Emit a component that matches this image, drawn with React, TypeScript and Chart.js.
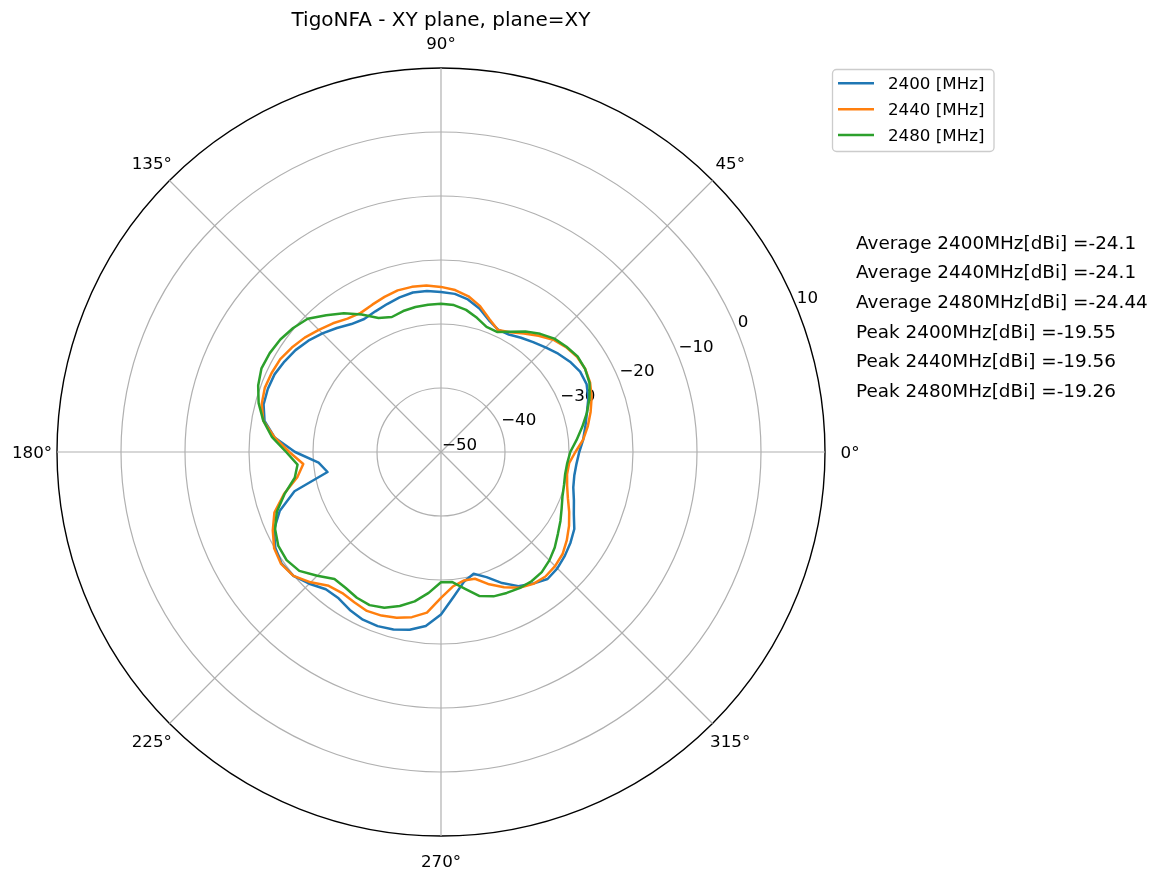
import React, { useEffect, useRef } from 'react';
import { Chart, registerables } from 'chart.js';

Chart.register(...registerables);

// Angles (degrees, counter-clockwise from east) at which the pattern is sampled
const ANGLES_DEG = [
  0, 5, 10, 15, 20, 25, 30, 35, 40, 45, 50, 55, 60, 65, 70, 75, 80, 85,
  90, 95, 100, 105, 110, 115, 120, 125, 130, 135, 140, 145, 150, 155, 160, 165, 170, 175,
  180, 185, 190, 195, 200, 205, 210, 215, 220, 225, 230, 235, 240, 245, 250, 255, 260, 265,
  270, 275, 280, 285, 290, 295, 300, 305, 310, 315, 320, 325, 330, 335, 340, 345, 350, 355,
];

// Gain in dBi per angle
const GAIN_2400 = [
  -28.4, -27.7, -27.1, -26.4, -25.5, -24.9, -24.9, -25.4, -26.1, -26.9, -27.6, -28.2, -28.8, -28.9, -28.1, -26.8, -25.8, -25.2,
  -25.0, -24.75, -24.7, -25.0, -25.4, -25.75, -26.0, -25.6, -24.7, -23.8, -22.95, -22.25, -21.75, -21.3, -21.2, -21.3, -22.0, -23.9,
  -27.2, -30.8, -32.0, -26.3, -23.2, -21.2, -20.1, -19.6, -19.9, -20.9, -22.0, -22.1, -21.5, -21.1, -21.05, -21.3, -21.8, -22.7,
  -24.6, -27.3, -29.4, -30.3, -29.2, -27.4, -25.8, -24.9, -24.1, -24.3, -24.75, -25.3, -25.95, -27.1, -27.9, -28.6, -28.85, -28.75,
];
const GAIN_2440 = [
  -29.0, -27.7, -26.7, -25.8, -24.95, -24.3, -24.0, -24.05, -24.5, -25.2, -26.3, -27.4, -28.4, -28.95, -27.9, -26.4, -25.3, -24.6,
  -24.2, -23.9, -23.8, -23.85, -24.2, -24.6, -24.9, -24.55, -23.75, -23.0, -22.2, -21.55, -21.0, -20.8, -20.7, -21.0, -21.8, -23.9,
  -26.3, -28.4, -27.2, -24.6, -22.3, -21.0, -19.9, -19.5, -19.9, -21.2, -22.7, -23.1, -22.9, -22.6, -22.8, -23.2, -23.8, -24.8,
  -27.2, -28.9, -29.6, -29.5, -28.0, -26.7, -25.5, -24.85, -24.6, -24.8, -25.2, -26.0, -26.9, -27.9, -28.9, -29.6, -30.0, -29.9,
];
const GAIN_2480 = [
  -29.8, -28.75, -27.6, -26.4, -25.3, -24.4, -24.0, -23.95, -24.4, -24.95, -25.9, -27.0, -28.3, -29.3, -29.2, -28.3, -27.45, -26.95,
  -26.85, -26.9, -27.0, -27.2, -27.55, -26.9, -25.2, -23.55, -22.1, -20.55, -19.85, -19.35, -19.1, -19.05, -19.6, -20.5, -21.8, -23.5,
  -25.8, -27.5, -26.8, -24.7, -22.7, -21.4, -20.65, -20.55, -21.1, -22.65, -24.1, -24.05, -23.7, -23.6, -24.1, -25.1, -26.3, -27.9,
  -29.65, -29.6, -28.3, -26.7, -26.0, -25.7, -25.45, -25.35, -25.5, -26.05, -26.8, -27.7, -28.45, -29.2, -29.8, -30.1, -30.3, -30.2,
];

const SERIES_LABELS = ['2400 [MHz]', '2440 [MHz]', '2480 [MHz]'];
const SERIES_COLORS = ['#1f77b4', '#ff7f0e', '#2ca02c'];
const RADIAL_TICKS = [-50, -40, -30, -20, -10, 0, 10];
const ANGLE_TICKS = [0, 45, 90, 135, 180, 225, 270, 315];
const TITLE = 'TigoNFA - XY plane, plane=XY';
const STATS_LINES = [
  'Average 2400MHz[dBi] =-24.1',
  'Average 2440MHz[dBi] =-24.1',
  'Average 2480MHz[dBi] =-24.44',
  'Peak 2400MHz[dBi] =-19.55',
  'Peak 2440MHz[dBi] =-19.56',
  'Peak 2480MHz[dBi] =-19.26',
];

const FONT = '"DejaVu Sans", "Liberation Sans", sans-serif';
const W = 1176;
const H = 874;

export default function App() {
  const ref = useRef<HTMLCanvasElement | null>(null);

  useEffect(() => {
    const canvas = ref.current;
    if (!canvas) return;
    const n = ANGLES_DEG.length;
    const step = 360 / n;
    // radar goes clockwise from startAngle; reverse order gives counter-clockwise angles
    const order = ANGLES_DEG.map((_, i) => (n - i) % n);
    const labels = order.map((k) => `${ANGLES_DEG[k]}°`);
    const series = [GAIN_2400, GAIN_2440, GAIN_2480];
    const idxForAngle = (deg: number) => Math.round(((360 - deg) % 360) / step) % n;

    const overlay = {
      id: 'overlay',
      beforeDatasetsDraw(chart: any) {
        const s = chart.scales.r;
        const ctx = chart.ctx;
        ctx.save();
        ctx.font = `16.7px ${FONT}`;
        ctx.fillStyle = '#000';
        ctx.textAlign = 'left';
        ctx.textBaseline = 'alphabetic';
        const a = (22.5 * Math.PI) / 180;
        RADIAL_TICKS.forEach((v) => {
          const d = s.getDistanceFromCenterForValue(v);
          const x = s.xCenter + d * Math.cos(a);
          const y = s.yCenter - d * Math.sin(a);
          const txt = v < 0 ? `\u2212${Math.abs(v)}` : `${v}`;
          ctx.fillText(txt, x + 1, y - 2.5);
        });
        ctx.restore();
      },
      afterDraw(chart: any) {
        const s = chart.scales.r;
        const ctx = chart.ctx;
        ctx.save();
        ctx.fillStyle = '#000';
        // angle labels
        ctx.font = `16.7px ${FONT}`;
        ctx.textAlign = 'center';
        ctx.textBaseline = 'alphabetic';
        ANGLE_TICKS.forEach((deg) => {
          const p = s.getPointPosition(idxForAngle(deg), s.drawingArea + 25);
          ctx.fillText(`${deg}°`, p.x, p.y + 6);
        });
        // title
        ctx.font = `20px ${FONT}`;
        ctx.fillText(TITLE, s.xCenter, 26);
        // legend
        const lx = 832.5, ly = 69.5, lw = 161.5, lh = 82, rr = 4;
        ctx.beginPath();
        ctx.moveTo(lx + rr, ly);
        ctx.lineTo(lx + lw - rr, ly);
        ctx.arcTo(lx + lw, ly, lx + lw, ly + rr, rr);
        ctx.lineTo(lx + lw, ly + lh - rr);
        ctx.arcTo(lx + lw, ly + lh, lx + lw - rr, ly + lh, rr);
        ctx.lineTo(lx + rr, ly + lh);
        ctx.arcTo(lx, ly + lh, lx, ly + lh - rr, rr);
        ctx.lineTo(lx, ly + rr);
        ctx.arcTo(lx, ly, lx + rr, ly, rr);
        ctx.closePath();
        ctx.fillStyle = 'rgba(255,255,255,0.8)';
        ctx.fill();
        ctx.strokeStyle = '#cccccc';
        ctx.lineWidth = 1.33;
        ctx.stroke();
        ctx.font = `16.7px ${FONT}`;
        ctx.textAlign = 'left';
        SERIES_LABELS.forEach((lab, i) => {
          const y = 83.3 + i * 25.9;
          ctx.strokeStyle = SERIES_COLORS[i];
          ctx.lineWidth = 2.5;
          ctx.beginPath();
          ctx.moveTo(838, y);
          ctx.lineTo(874, y);
          ctx.stroke();
          ctx.fillStyle = '#000';
          ctx.fillText(lab, 888, y + 6);
        });
        // stats text
        ctx.font = `18.4px ${FONT}`;
        STATS_LINES.forEach((t, i) => {
          ctx.fillText(t, 856, 248.5 + i * 29.7);
        });
        ctx.restore();
      },
    };

    const chart = new Chart(canvas, {
      type: 'radar',
      data: {
        labels,
        datasets: series.map((vals, si) => ({
          label: SERIES_LABELS[si],
          data: order.map((k) => vals[k]),
          borderColor: SERIES_COLORS[si],
          backgroundColor: SERIES_COLORS[si],
          borderWidth: 2.5,
          pointRadius: 0,
          pointHoverRadius: 0,
          fill: false,
          tension: 0,
          borderJoinStyle: 'round',
          borderCapStyle: 'round',
          order: 3 - si,
        })),
      },
      options: {
        responsive: false,
        devicePixelRatio: 1,
        animation: false,
        events: [],
        layout: { padding: { left: 57, right: 351, top: 68, bottom: 38 } },
        plugins: {
          legend: { display: false },
          tooltip: { enabled: false },
          title: { display: false },
        },
        scales: {
          r: {
            min: -50,
            max: 10,
            startAngle: 90,
            beginAtZero: false,
            ticks: { stepSize: 10, display: false },
            pointLabels: { display: false },
            grid: {
              circular: true,
              color: (c: any) => (c.tick && c.tick.value === 10 ? '#000000' : '#b0b0b0'),
              lineWidth: (c: any) => (c.tick && c.tick.value === 10 ? 1.4 : 1.2),
            },
            angleLines: {
              display: true,
              color: '#b0b0b0',
              lineWidth: (c: any) => (c.index % Math.round(45 / step) === 0 ? 1.2 : 0),
            },
          },
        },
      },
      plugins: [overlay],
    } as any);

    return () => chart.destroy();
  }, []);

  return (
    <div style={{ position: 'fixed', left: 0, top: 0, width: W, height: H, background: '#fff' }}>
      <canvas ref={ref} width={W} height={H} style={{ width: W, height: H, display: 'block' }} />
    </div>
  );
}
